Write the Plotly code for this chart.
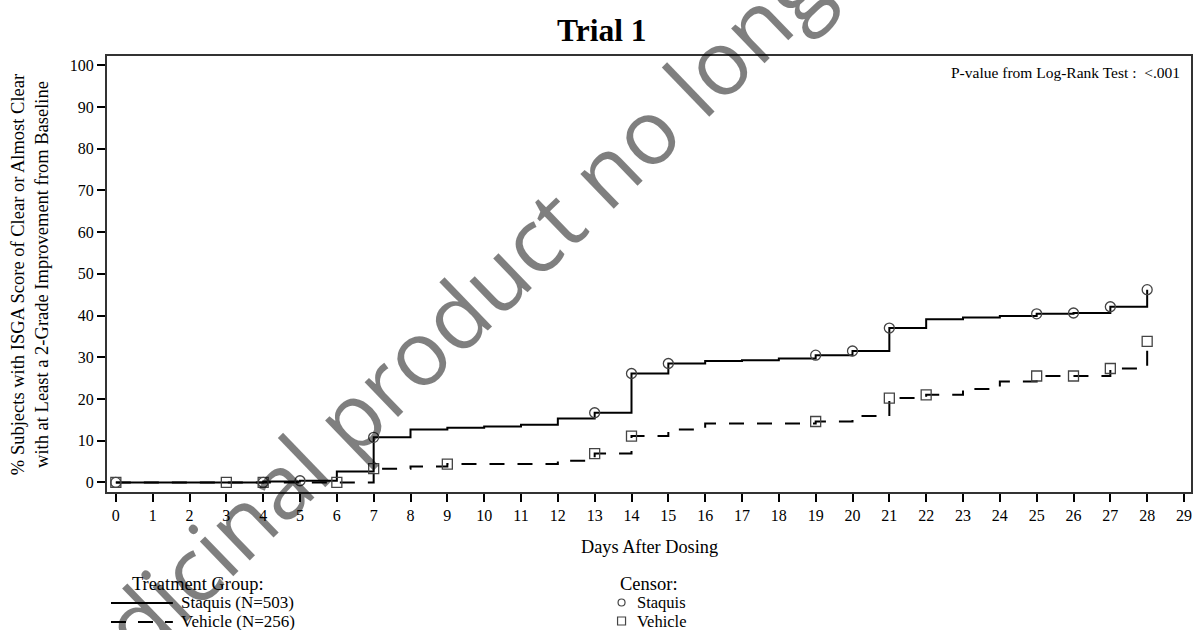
import plotly.graph_objects as go

# ---------------- data ----------------
stq_days = [0, 4, 5, 6, 7, 8, 9, 10, 11, 12, 13, 14, 15, 16, 17, 18, 19, 20, 21, 22, 23, 24, 25, 26, 27, 28]
stq_pct = [0, 0.2, 0.4, 2.6, 10.8, 12.7, 13.1, 13.4, 13.8, 15.3, 16.7, 26.1, 28.5, 29.1, 29.3, 29.7, 30.5, 31.5, 37.0, 39.1, 39.5, 39.9, 40.4, 40.6, 42.1, 46.2]

veh_days = [0, 7, 8, 9, 12, 13, 14, 15, 16, 19, 20, 21, 22, 23, 24, 25, 27, 28]
veh_pct = [0, 3.3, 3.8, 4.4, 5.2, 6.9, 11.1, 12.7, 14.1, 14.6, 15.9, 20.2, 21.0, 22.4, 24.2, 25.5, 27.3, 33.8]

stq_cens_days = [0, 4, 5, 7, 13, 14, 15, 19, 20, 21, 25, 26, 27, 28]
stq_cens_pct = [0, 0, 0.4, 10.8, 16.7, 26.1, 28.5, 30.5, 31.5, 37.0, 40.4, 40.6, 42.1, 46.2]

veh_cens_days = [0, 3, 4, 6, 7, 9, 13, 14, 19, 21, 22, 25, 26, 27, 28]
veh_cens_pct = [0, 0, 0, 0, 3.3, 4.4, 6.9, 11.1, 14.6, 20.2, 21.0, 25.5, 25.5, 27.3, 33.8]

x_ticks = list(range(0, 30))
y_ticks = list(range(0, 101, 10))

title_text = "Trial 1"
x_title = "Days After Dosing"
y_title = "% Subjects with ISGA Score of Clear or Almost Clear<br>with at Least a 2-Grade Improvement from Baseline"
pvalue_text = "P-value from Log-Rank Test :&nbsp;&nbsp;&lt;.001"
group_labels = ["Staquis (N=503)", "Vehicle (N=256)"]
censor_labels = ["Staquis", "Vehicle"]
watermark = "Medicinal product no longer authorised"

# ---------------- layout helpers ----------------
W, H = 1195, 630
L, R, T, B = 107, 1193, 56, 492   # plot area in window pixels
SERIF = "Liberation Serif, Times New Roman, serif"


def px(x):
    return (x - L) / (R - L)


def py(y):
    return (B - y) / (B - T)


fig = go.Figure()

fig.add_trace(go.Scatter(x=stq_days, y=stq_pct, mode="lines", line_shape="hv",
                         line=dict(color="black", width=2), showlegend=False, hoverinfo="skip"))
fig.add_trace(go.Scatter(x=veh_days, y=veh_pct, mode="lines", line_shape="hv",
                         line=dict(color="black", width=2, dash="15px,13px"), showlegend=False, hoverinfo="skip"))
fig.add_trace(go.Scatter(x=stq_cens_days, y=stq_cens_pct, mode="markers",
                         marker=dict(symbol="circle-open", size=10, color="#444", line=dict(width=1.3, color="#444")),
                         showlegend=False, hoverinfo="skip"))
fig.add_trace(go.Scatter(x=veh_cens_days, y=veh_cens_pct, mode="markers",
                         marker=dict(symbol="square-open", size=10, color="#444", line=dict(width=1.3, color="#444")),
                         showlegend=False, hoverinfo="skip"))

axis_common = dict(showline=True, mirror=True, linecolor="#333", linewidth=2,
                   ticks="outside", ticklen=8, tickwidth=2, tickcolor="black",
                   showgrid=False, zeroline=False,
                   tickfont=dict(family=SERIF, size=16, color="black"))

fig.update_xaxes(range=[-0.24, 29.19], tickvals=x_ticks, ticktext=[str(v) for v in x_ticks], **axis_common)
fig.update_yaxes(range=[-2.3, 102.2], tickvals=y_ticks, ticktext=[str(v) for v in y_ticks], **axis_common)

annotations = [
    dict(text="<b>" + title_text + "</b>", x=px(603), y=py(30), xanchor="center", yanchor="middle",
         font=dict(family=SERIF, size=31.5, color="black")),
    dict(text=x_title, x=px(651), y=py(547), xanchor="center", yanchor="middle",
         font=dict(family=SERIF, size=18.3, color="black")),
    dict(text=y_title, x=px(30), y=py(275), xanchor="center", yanchor="middle", textangle=-90,
         font=dict(family=SERIF, size=18.5, color="black")),
    dict(text=pvalue_text, x=px(1184), y=py(72), xanchor="right", yanchor="middle",
         font=dict(family=SERIF, size=15.5, color="black")),
    dict(text="Treatment Group:", x=px(198), y=py(584), xanchor="center", yanchor="middle",
         font=dict(family=SERIF, size=18.4, color="black")),
    dict(text=group_labels[0], x=px(179), y=py(603), xanchor="left", yanchor="middle",
         font=dict(family=SERIF, size=17, color="black")),
    dict(text=group_labels[1], x=px(179), y=py(621), xanchor="left", yanchor="middle",
         font=dict(family=SERIF, size=17, color="black")),
    dict(text="Censor:", x=px(650), y=py(584), xanchor="center", yanchor="middle",
         font=dict(family=SERIF, size=18.5, color="black")),
    dict(text=censor_labels[0], x=px(636), y=py(603), xanchor="left", yanchor="middle",
         font=dict(family=SERIF, size=16.5, color="black")),
    dict(text=censor_labels[1], x=px(636), y=py(621), xanchor="left", yanchor="middle",
         font=dict(family=SERIF, size=16.5, color="black")),
    dict(text=watermark, x=px(620), y=py(155), xanchor="center", yanchor="middle", textangle=-44,
         font=dict(family="Open Sans", size=90, color="rgba(0,0,0,0.5)")),
]
for a in annotations:
    a.update(xref="paper", yref="paper", showarrow=False)

shapes = [
    dict(type="line", x0=px(111), x1=px(173), y0=py(603), y1=py(603),
         line=dict(color="black", width=2)),
    dict(type="line", x0=px(111), x1=px(173), y0=py(622), y1=py(622),
         line=dict(color="black", width=2, dash="15px,12px")),
    dict(type="circle", x0=px(619), x1=px(626), y0=py(606), y1=py(599),
         line=dict(color="#444", width=1.2)),
    dict(type="rect", x0=px(618.5), x1=px(626.5), y0=py(625), y1=py(617),
         line=dict(color="#444", width=1.2)),
]
for s in shapes:
    s.update(xref="paper", yref="paper")

fig.update_layout(width=W, height=H,
                  margin=dict(l=L, r=W - R, t=T, b=H - B),
                  paper_bgcolor="white", plot_bgcolor="white",
                  annotations=annotations, shapes=shapes, showlegend=False)

fig.write_html("out.html", config={"displayModeBar": False},
               post_script="document.body.style.margin='0';document.body.style.overflow='hidden';")
